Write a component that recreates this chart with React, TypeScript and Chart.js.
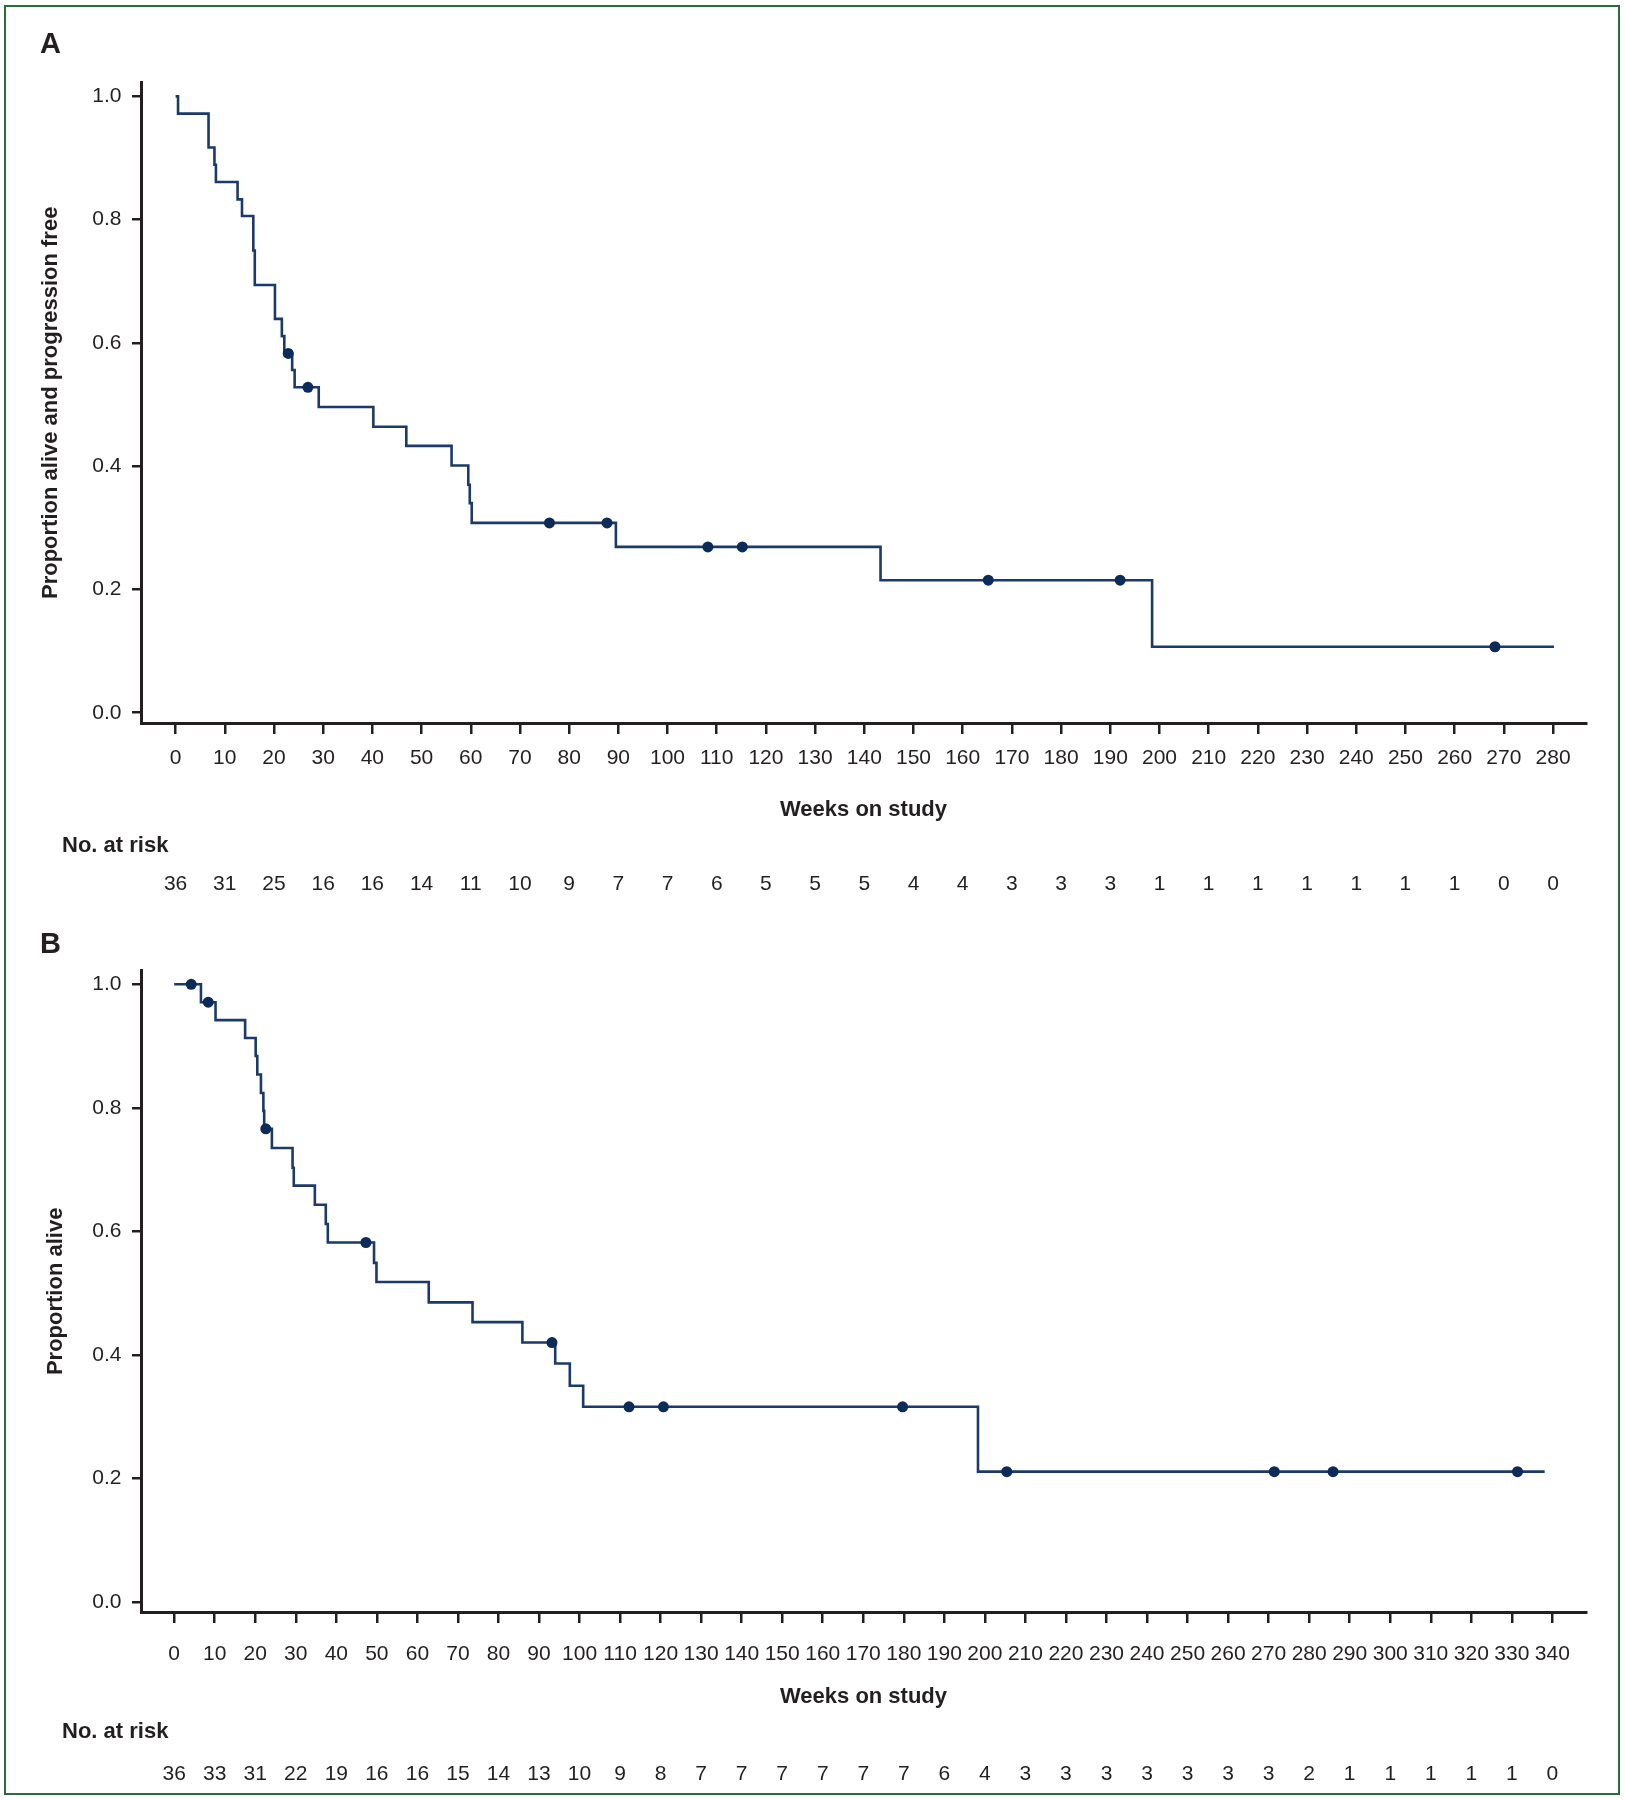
import React, { useEffect, useRef } from "react";
import { Chart, registerables } from "chart.js";

Chart.register(...registerables);

const FONT = "'Liberation Sans', Arial, Helvetica, sans-serif";
const INK = "#231f20";
const LINE = "#1b3a6b";
const DOT = "#0c2b59";

// ---------- Panel A: progression-free survival ----------
const timesA = [0, 0.5, 6.7, 7.9, 8.2, 12.6, 13.5, 15.8, 16.1, 20.2, 21.6, 22.1, 23.7, 24.2, 29.1, 40.2, 46.9, 56.1, 59.5, 59.8, 60.2, 89.5, 143.3, 198.5, 280.2];
const survA = [1.0, 0.972, 0.917, 0.889, 0.861, 0.833, 0.806, 0.75, 0.694, 0.639, 0.611, 0.583, 0.556, 0.528, 0.496, 0.464, 0.433, 0.401, 0.37, 0.34, 0.308, 0.269, 0.215, 0.107, 0.107];
const censorTimesA = [22.9, 26.9, 76.0, 87.7, 108.2, 115.2, 165.2, 192.0, 268.2];
const censorSurvA = [0.583, 0.528, 0.308, 0.308, 0.269, 0.269, 0.215, 0.215, 0.107];
const xTicksA = [0, 10, 20, 30, 40, 50, 60, 70, 80, 90, 100, 110, 120, 130, 140, 150, 160, 170, 180, 190, 200, 210, 220, 230, 240, 250, 260, 270, 280];
const riskA = [36, 31, 25, 16, 16, 14, 11, 10, 9, 7, 7, 6, 5, 5, 5, 4, 4, 3, 3, 3, 1, 1, 1, 1, 1, 1, 1, 0, 0];

// ---------- Panel B: overall survival ----------
const timesB = [0, 6.6, 10.2, 17.5, 20.1, 20.5, 21.4, 22.0, 22.2, 24.1, 29.2, 29.5, 34.7, 37.4, 37.9, 49.3, 49.9, 62.8, 73.6, 85.9, 94.0, 97.6, 100.9, 198.3, 338.1];
const survB = [1.0, 0.971, 0.942, 0.913, 0.884, 0.854, 0.824, 0.795, 0.766, 0.735, 0.703, 0.674, 0.643, 0.612, 0.582, 0.549, 0.518, 0.485, 0.453, 0.42, 0.386, 0.35, 0.316, 0.211, 0.211];
const censorTimesB = [4.2, 8.4, 22.6, 47.3, 93.2, 112.2, 120.7, 179.7, 205.4, 271.4, 285.9, 331.4];
const censorSurvB = [1.0, 0.971, 0.766, 0.582, 0.42, 0.316, 0.316, 0.316, 0.211, 0.211, 0.211, 0.211];
const xTicksB = [0, 10, 20, 30, 40, 50, 60, 70, 80, 90, 100, 110, 120, 130, 140, 150, 160, 170, 180, 190, 200, 210, 220, 230, 240, 250, 260, 270, 280, 290, 300, 310, 320, 330, 340];
const riskB = [36, 33, 31, 22, 19, 16, 16, 15, 14, 13, 10, 9, 8, 7, 7, 7, 7, 7, 7, 6, 4, 3, 3, 3, 3, 3, 3, 3, 2, 1, 1, 1, 1, 1, 0];

const yTicks = [0, 0.2, 0.4, 0.6, 0.8, 1.0];

type PanelCfg = {
  letter: string;
  yTitle: string;
  times: number[];
  surv: number[];
  cTimes: number[];
  cSurv: number[];
  xTicks: number[];
  risk: number[];
  xMin: number;
  xMax: number;
  yMin: number;
  yMax: number;
  padTop: number;
  padBottom: number;
  xTickPad: number;
  xTitlePadBottom: number;
  yTitlePadTop: number;
  riskLabelY: number;
  riskY: number;
  letterY: number;
};

const panelA: PanelCfg = {
  letter: "A",
  yTitle: "Proportion alive and progression free",
  times: timesA,
  surv: survA,
  cTimes: censorTimesA,
  cSurv: censorSurvA,
  xTicks: xTicksA,
  risk: riskA,
  xMin: -7.03,
  xMax: 286.7,
  yMin: -0.0167,
  yMax: 1.0224,
  padTop: 82.6,
  padBottom: 77,
  xTickPad: 12,
  xTitlePadBottom: 0,
  yTitlePadTop: 37.8,
  riskLabelY: 845.7,
  riskY: 884.7,
  letterY: 52.7,
};

const panelB: PanelCfg = {
  letter: "B",
  yTitle: "Proportion alive",
  times: timesB,
  surv: survB,
  cTimes: censorTimesB,
  cSurv: censorSurvB,
  xTicks: xTicksB,
  risk: riskB,
  xMin: -8.19,
  xMax: 348.3,
  yMin: -0.0162,
  yMax: 1.022,
  padTop: 70.7,
  padBottom: 88,
  xTickPad: 19,
  xTitlePadBottom: 1.8,
  yTitlePadTop: 42.8,
  riskLabelY: 832.3,
  riskY: 874,
  letterY: 53.3,
};

function riskPlugin(cfg: PanelCfg) {
  return {
    id: "riskTable" + cfg.letter,
    afterDraw(chart: any) {
      const ctx = chart.ctx as CanvasRenderingContext2D;
      const xs = chart.scales.x;
      ctx.save();
      ctx.fillStyle = INK;
      ctx.font = `bold 22px ${FONT}`;
      ctx.textAlign = "left";
      ctx.textBaseline = "middle";
      ctx.fillText("No. at risk", 62, cfg.riskLabelY);
      ctx.font = `21px ${FONT}`;
      ctx.textAlign = "center";
      cfg.xTicks.forEach((t, i) => {
        ctx.fillText(String(cfg.risk[i]), xs.getPixelForValue(t), cfg.riskY);
      });
      ctx.font = `bold 29px ${FONT}`;
      ctx.textAlign = "left";
      ctx.textBaseline = "alphabetic";
      ctx.fillText(cfg.letter, 40, cfg.letterY);
      ctx.restore();
    },
  };
}

function Panel({ cfg, top }: { cfg: PanelCfg; top: number }) {
  const ref = useRef<HTMLCanvasElement>(null);
  useEffect(() => {
    const canvas = ref.current!;
    const chart = new Chart(canvas, {
      type: "line",
      data: {
        datasets: [
          {
            label: "Censored",
            data: cfg.cTimes.map((t, i) => ({ x: t, y: cfg.cSurv[i] })),
            showLine: false,
            pointRadius: 5.5,
            pointHoverRadius: 5.5,
            pointBackgroundColor: DOT,
            pointBorderColor: DOT,
            pointBorderWidth: 0,
            borderColor: DOT,
          },
          {
            label: "Kaplan-Meier",
            data: cfg.times.map((t, i) => ({ x: t, y: cfg.surv[i] })),
            stepped: "before",
            borderColor: LINE,
            borderWidth: 2.6,
            pointRadius: 0,
            fill: false,
          },
        ],
      },
      options: {
        animation: false,
        responsive: false,
        maintainAspectRatio: false,
        events: [],
        layout: { padding: { top: cfg.padTop, right: 39, bottom: cfg.padBottom, left: 0 } },
        plugins: { legend: { display: false }, tooltip: { enabled: false } },
        scales: {
          x: {
            type: "linear",
            min: cfg.xMin,
            max: cfg.xMax,
            afterBuildTicks: (s: any) => {
              s.ticks = cfg.xTicks.map((v) => ({ value: v }));
            },
            afterFit: (s: any) => {
              s.height = 100;
            },
            border: { display: true, color: INK, width: 3 },
            grid: {
              display: true,
              drawOnChartArea: false,
              drawTicks: true,
              tickLength: 11,
              tickWidth: 2.5,
              tickColor: INK,
              color: INK,
              lineWidth: 2.5,
            },
            ticks: {
              color: INK,
              font: { size: 21, family: FONT },
              padding: cfg.xTickPad,
              maxRotation: 0,
              autoSkip: false,
              callback: (v: any) => String(v),
            },
            title: {
              display: true,
              text: "Weeks on study",
              color: INK,
              font: { size: 22, weight: "bold", family: FONT },
              padding: { top: 0, bottom: cfg.xTitlePadBottom },
            },
          },
          y: {
            type: "linear",
            min: cfg.yMin,
            max: cfg.yMax,
            afterBuildTicks: (s: any) => {
              s.ticks = yTicks.map((v) => ({ value: v }));
            },
            afterFit: (s: any) => {
              s.width = 141;
            },
            border: { display: true, color: INK, width: 3 },
            grid: {
              display: true,
              drawOnChartArea: false,
              drawTicks: true,
              tickLength: 9,
              tickWidth: 2.5,
              tickColor: INK,
              color: INK,
              lineWidth: 2.5,
            },
            ticks: {
              color: INK,
              font: { size: 21, family: FONT },
              padding: 10.5,
              autoSkip: false,
              callback: (v: any) => Number(v).toFixed(1),
            },
            title: {
              display: true,
              text: cfg.yTitle,
              color: INK,
              font: { size: 22, weight: "bold", family: FONT },
              padding: { top: cfg.yTitlePadTop, bottom: 0 },
            },
          },
        },
      } as any,
      plugins: [riskPlugin(cfg)],
    });
    return () => chart.destroy();
  }, [cfg]);
  return (
    <canvas
      ref={ref}
      width={1625}
      height={900}
      style={{ position: "absolute", left: 0, top, width: 1625, height: 900 }}
    />
  );
}

export default function App() {
  return (
    <div style={{ position: "absolute", left: 0, top: 0, width: 1625, height: 1800, background: "#ffffff" }}>
      <Panel cfg={panelA} top={0} />
      <Panel cfg={panelB} top={900} />
      <div
        style={{
          position: "absolute",
          left: 4,
          top: 5,
          width: 1616,
          height: 1790,
          boxSizing: "border-box",
          border: "2px solid #2d6a3e",
          pointerEvents: "none",
        }}
      />
    </div>
  );
}
